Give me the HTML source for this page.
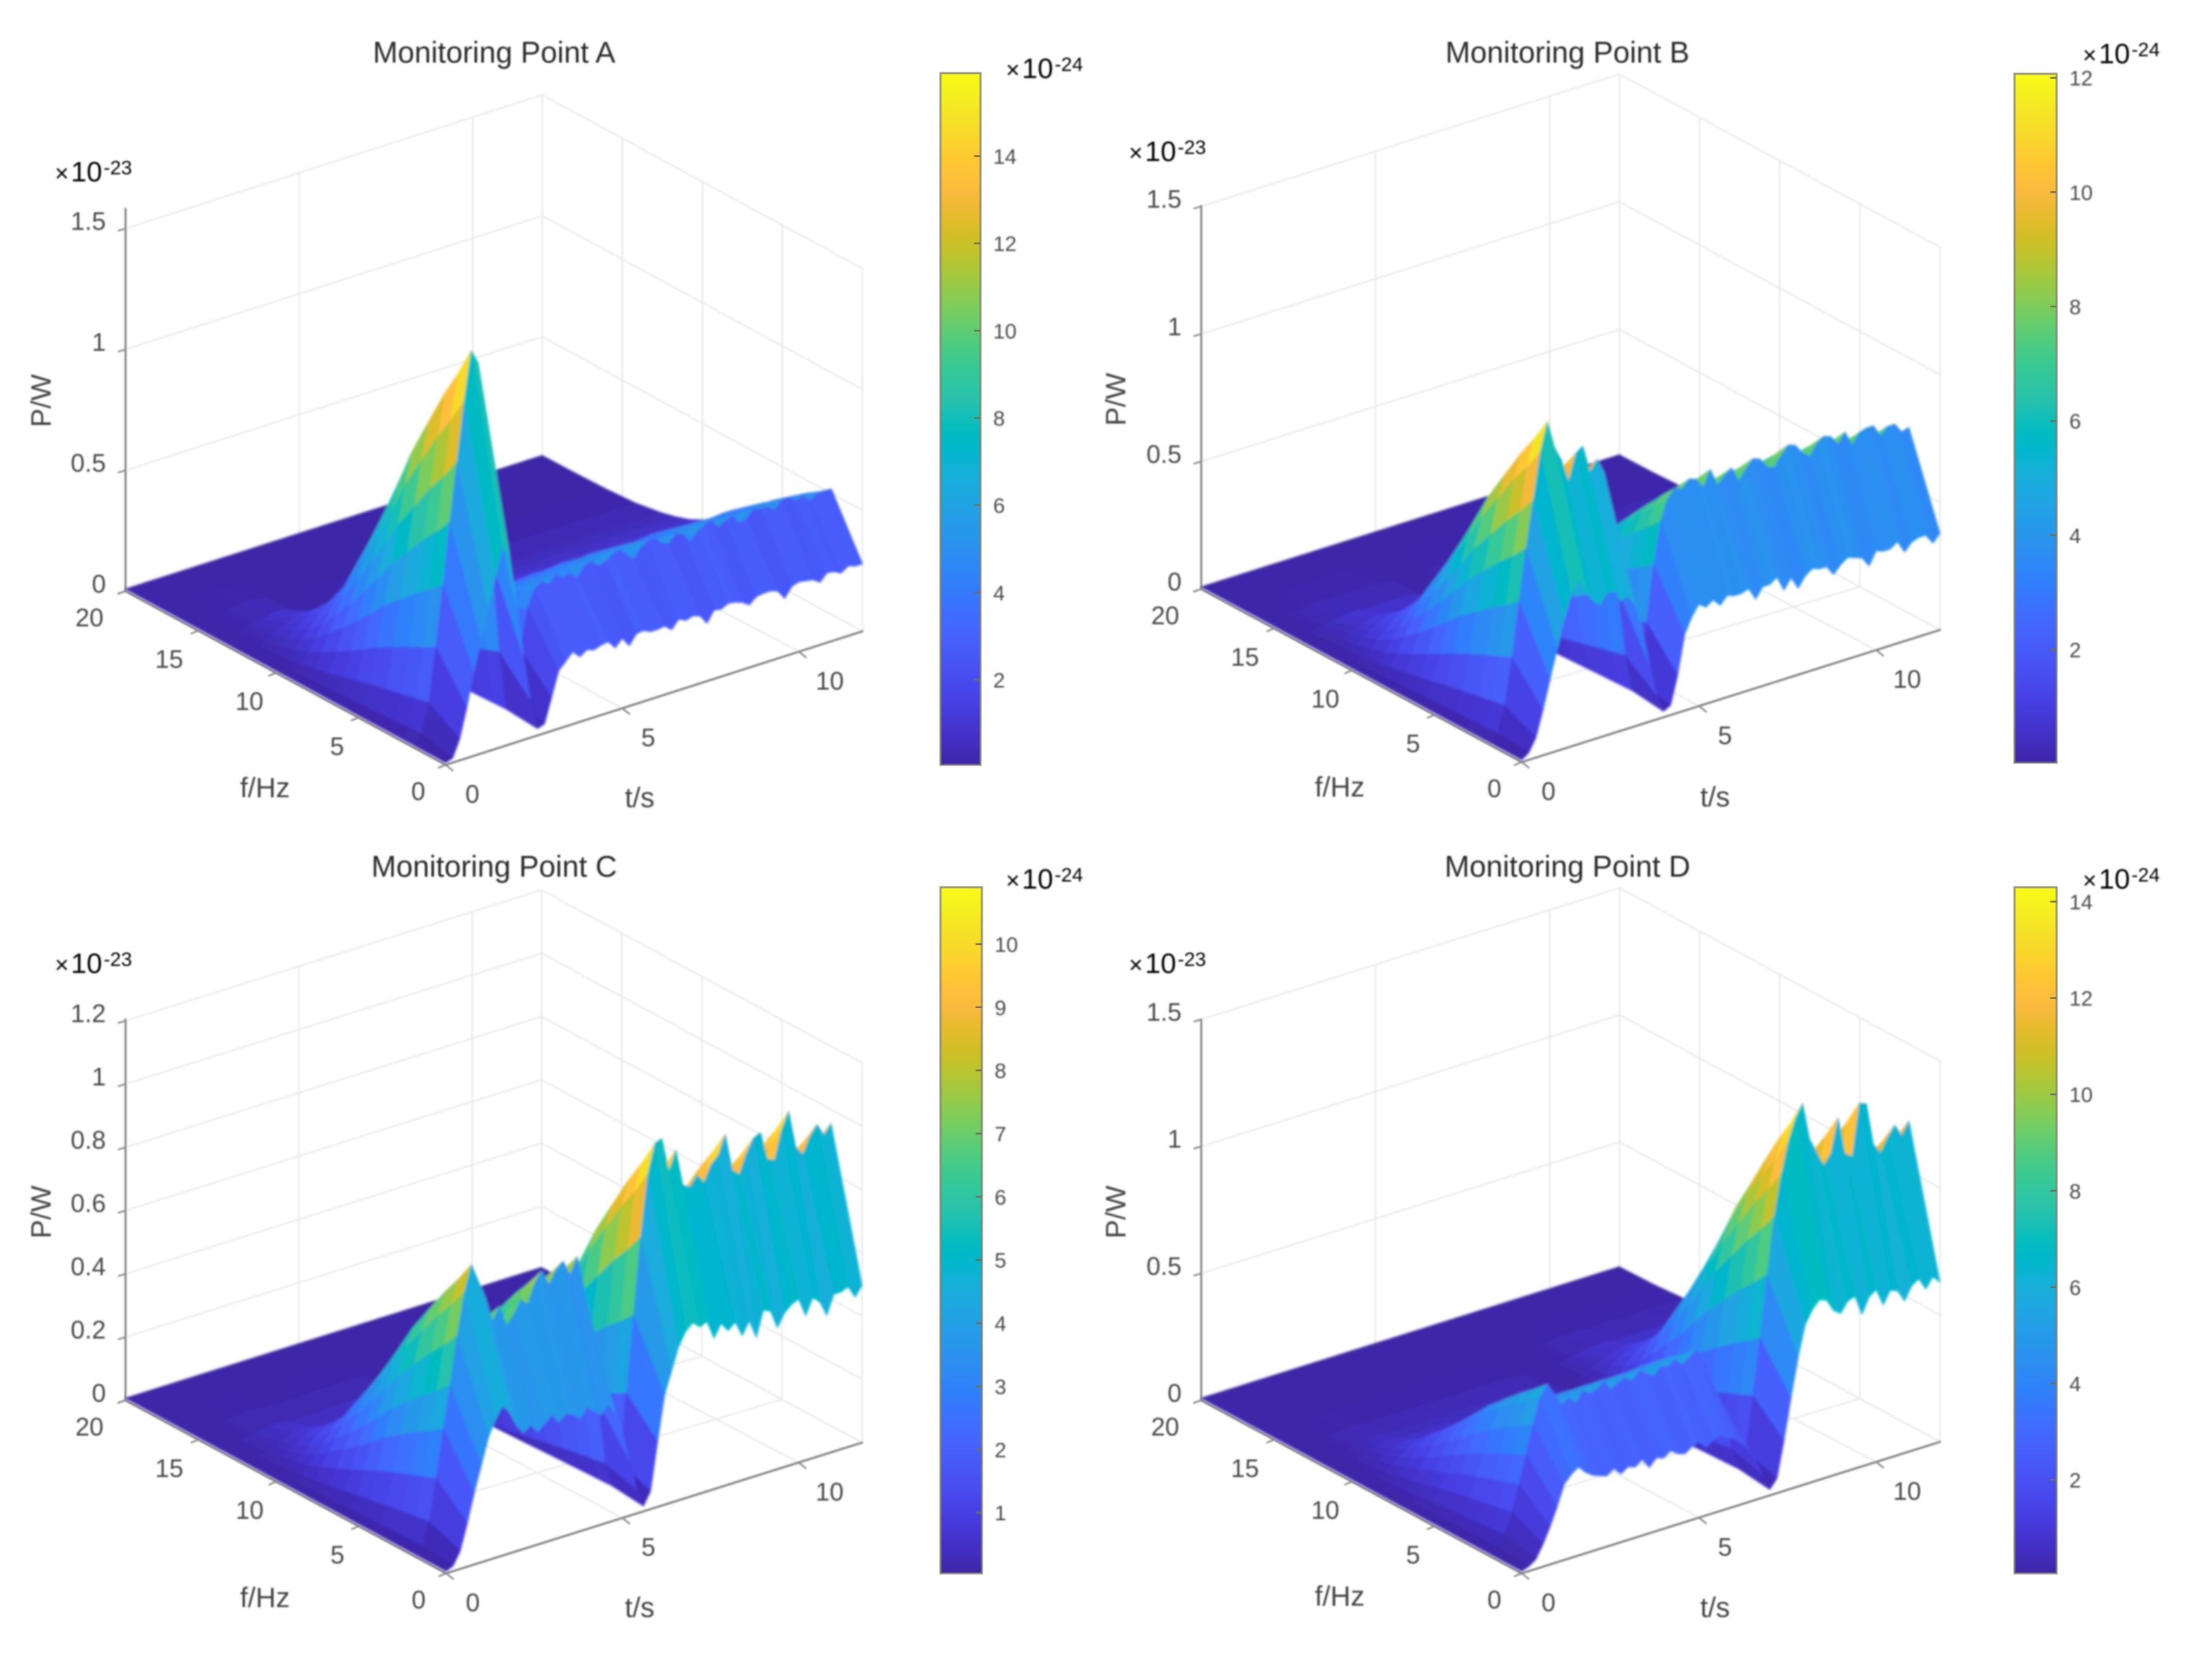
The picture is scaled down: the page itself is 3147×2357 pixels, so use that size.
<!DOCTYPE html>
<html lang="en">
<head>
<meta charset="utf-8">
<title>Monitoring Points Time-Frequency Power Surfaces</title>
<style>
html,body{margin:0;padding:0;background:#fff;width:3147px;height:2357px;overflow:hidden}
svg{display:block}
text{font-family:"Liberation Sans",sans-serif}
.title{font-size:42.5px;fill:#2b2b2b;text-anchor:middle}
.axis-label{font-size:40px;fill:#444;text-anchor:middle}
.exp{fill:#000}
.tick{fill:#4a4a4a}
</style>
</head>
<body>
<svg id="chart" xmlns="http://www.w3.org/2000/svg" width="3147" height="2357" viewBox="0 0 3147 2357">
<defs>
<filter id="soft" x="-5%" y="-5%" width="110%" height="110%"><feGaussianBlur stdDeviation="1.8"/></filter>
<filter id="softer" x="-5%" y="-5%" width="110%" height="110%"><feGaussianBlur stdDeviation="1"/></filter>
<linearGradient id="parula-gradient" x1="0" y1="1" x2="0" y2="0"></linearGradient>
</defs>
<rect width="3147" height="2357" fill="#fff"/>

<g>
<g id="plot-a"></g>
<g filter="url(#softer)">
<text class="title" x="703" y="89">Monitoring Point A</text>
<text class="axis-label" transform="translate(72,570) rotate(-90)">P/W</text>
<text class="axis-label" x="377" y="1134">f/Hz</text>
<text class="axis-label" x="910" y="1148">t/s</text>
<text class="exp" x="78" y="258"><tspan font-size="34">×</tspan><tspan dx="3" font-size="40">10</tspan><tspan dx="2" dy="-10" font-size="28">-23</tspan></text>
<text class="exp" x="1431" y="111"><tspan font-size="34">×</tspan><tspan dx="3" font-size="40">10</tspan><tspan dx="2" dy="-10" font-size="28">-24</tspan></text>
</g>
</g>

<g>
<g id="plot-b"></g>
<g filter="url(#softer)">
<text class="title" x="2230" y="89">Monitoring Point B</text>
<text class="axis-label" transform="translate(1601,568) rotate(-90)">P/W</text>
<text class="axis-label" x="1906" y="1133">f/Hz</text>
<text class="axis-label" x="2440" y="1147">t/s</text>
<text class="exp" x="1606" y="229"><tspan font-size="34">×</tspan><tspan dx="3" font-size="40">10</tspan><tspan dx="2" dy="-10" font-size="28">-23</tspan></text>
<text class="exp" x="2963" y="90"><tspan font-size="34">×</tspan><tspan dx="3" font-size="40">10</tspan><tspan dx="2" dy="-10" font-size="28">-24</tspan></text>
</g>
</g>

<g>
<g id="plot-c"></g>
<g filter="url(#softer)">
<text class="title" x="703" y="1247">Monitoring Point C</text>
<text class="axis-label" transform="translate(72,1724) rotate(-90)">P/W</text>
<text class="axis-label" x="377" y="2286">f/Hz</text>
<text class="axis-label" x="910" y="2300">t/s</text>
<text class="exp" x="78" y="1384"><tspan font-size="34">×</tspan><tspan dx="3" font-size="40">10</tspan><tspan dx="2" dy="-10" font-size="28">-23</tspan></text>
<text class="exp" x="1431" y="1264"><tspan font-size="34">×</tspan><tspan dx="3" font-size="40">10</tspan><tspan dx="2" dy="-10" font-size="28">-24</tspan></text>
</g>
</g>

<g>
<g id="plot-d"></g>
<g filter="url(#softer)">
<text class="title" x="2230" y="1247">Monitoring Point D</text>
<text class="axis-label" transform="translate(1601,1724) rotate(-90)">P/W</text>
<text class="axis-label" x="1906" y="2284">f/Hz</text>
<text class="axis-label" x="2440" y="2300">t/s</text>
<text class="exp" x="1606" y="1384"><tspan font-size="34">×</tspan><tspan dx="3" font-size="40">10</tspan><tspan dx="2" dy="-10" font-size="28">-23</tspan></text>
<text class="exp" x="2963" y="1264"><tspan font-size="34">×</tspan><tspan dx="3" font-size="40">10</tspan><tspan dx="2" dy="-10" font-size="28">-24</tspan></text>
</g>
</g>
</svg>

<script>
// ---------- data (power in units of 1e-24 W) ----------
const timeStep = 0.2;
const freqRows = [0, 1.75, 2.5, 3.25, 4.2, 5.15, 5.95, 6.7, 7.6, 8.5, 9.3, 10.2, 11.1, 12, 13.65, 15.6, 17.55, 20];
const rowShape = [0.53, 1, 0.92, 0.85, 0.75, 0.65, 0.55, 0.46, 0.36, 0.27, 0.19, 0.13, 0.09, 0.06, 0.025, 0.01, 0.003, 0];

const fTicks = [0, 5, 10, 15, 20];
const tTicks = [0, 5, 10];
const zTicksA = [0, 0.5, 1, 1.5];
const zTicksB = [0, 0.5, 1, 1.5];
const zTicksC = [0, 0.2, 0.4, 0.6, 0.8, 1, 1.2];
const zTicksD = [0, 0.5, 1, 1.5];
const colorTicksA = [2, 4, 6, 8, 10, 12, 14];
const colorTicksB = [2, 4, 6, 8, 10, 12];
const colorTicksC = [1, 2, 3, 4, 5, 6, 7, 8, 9, 10];
const colorTicksD = [2, 4, 6, 8, 10, 12, 14];

// power at the spectral ridge, one value per time step
const ridgeA = [0,0.4,1.6,3.8,6.3,8.8,11.2,13.6,15.6,15.0,
10.8,6.6,2.8,0.3,0.6,2.6,4.2,4.9,5.1,4.9,
5.2,5.0,5.1,4.8,5.2,5.3,5.0,5.1,5.3,5.4,
5.1,4.8,5.2,5.4,5.4,5.1,5.0,5.3,5.2,4.8,
5.1,5.3,5.4,5.0,5.2,5.3,4.9,5.0,5.3,5.2,
5.2,5.0,5.3,5.3,5.1,5.2,4.9,5.1,5.1,5.1];
const edgeA = [0,0.1,0.8,2.0,3.4,4.6,5.8,7.0,8.2,7.8,
5.6,3.4,1.5,0.2,0.3,1.3,2.3,2.6,2.9,2.6,
2.8,2.7,2.8,2.85,2.5,2.8,2.4,2.8,2.85,2.7,
2.7,2.75,2.5,2.85,2.7,2.8,2.7,2.3,2.75,2.7,
2.85,2.8,2.7,2.5,2.75,2.8,2.8,2.7,2.3,2.7,
2.8,2.75,2.7,2.5,2.8,2.75,2.6,2.8,2.7,2.7];

const ridgeB = [0,0.3,1.3,3.1,5.2,7.2,9.0,10.8,11.9,10.8,
10.2,9.3,10.3,10.5,9.4,9.8,9.2,7.2,4.4,1.8,
0.3,0.5,2.8,5.0,6.6,7.4,7.7,7.6,7.9,7.8,
7.4,8.0,7.3,7.6,7.8,7.2,7.6,7.9,7.8,7.4,
7.3,7.7,8.0,7.9,7.5,7.3,7.7,7.9,7.8,7.4,
7.8,7.2,7.6,7.7,7.7,7.2,7.5,7.5,7.1,7.2];
const edgeB = [0,0.2,0.7,1.7,2.8,3.9,5,5.9,6.4,5.9,
5.4,5.1,5.5,5.6,5.0,5.1,4.7,3.6,2.2,0.9,
0.15,0.3,1.4,2.9,3.5,3.9,3.7,3.9,3.6,3.9,
3.8,3.8,3.9,3.4,3.8,3.8,4.0,3.4,3.8,3.3,
3.7,3.9,3.8,3.8,3.4,3.7,3.9,3.8,3.7,3.3,
3.8,3.7,3.7,3.9,3.4,3.7,3.8,3.8,3.4,3.7];

const ridgeC = [0,0.2,0.9,2.2,3.7,5.0,6.5,7.8,8.6,8.0,
7.4,6.6,7.0,6.3,6.6,7.0,6.8,7.4,7.7,7.2,
7.6,7.8,7.3,7.8,6.6,5.0,3.0,1.0,0.2,0.9,
3.0,5.4,7.8,9.7,10.6,10.7,9.6,10.2,9.0,8.9,
9.2,8.9,9.4,9.6,10.2,9.0,8.8,9.4,9.8,9.9,
9.0,8.9,9.8,10.3,9.1,8.8,9.3,9.6,9.2,9.5];
const edgeC = [0,0.1,0.5,1.3,2.2,3.0,3.8,4.3,4.7,4.4,
3.9,3.6,3.8,3.5,3.7,3.9,3.6,3.8,3.7,3.5,
3.8,3.6,3.4,3.7,3.3,2.6,1.7,0.7,0.1,0.5,
2.0,3.4,4.1,4.8,5.2,5.4,5.2,5.3,4.7,5.1,
4.8,5.0,4.5,4.9,4.3,5.1,5.0,4.4,4.8,5.0,
5.1,4.5,5.0,4.8,4.3,4.9,4.9,5.0,4.6,4.9];

const ridgeD = [0,0.2,0.6,1.4,2.4,3.5,4.6,5.6,6.0,5.5,
5.0,5.2,4.9,5.3,5.1,5.2,5.4,5.0,5.2,5.3,
5.1,5.4,5.2,5.0,5.3,5.2,5.4,5.1,5.3,5.5,
5.0,4.2,3.4,2.4,1.2,0.3,0.9,3.0,5.2,7.6,
9.8,11.4,12.6,13.4,13.9,12.4,11.8,11.2,11.6,12.9,
11.4,11.2,13.2,13.1,11.4,11,11.5,11.9,11.4,11.9];
const edgeD = [0,0.1,0.3,0.8,1.4,2.1,2.9,3.2,3.4,3.1,
2.9,2.8,2.7,2.9,2.6,2.8,2.7,2.9,2.5,2.8,
2.7,2.9,2.7,2.6,2.8,2.9,2.6,2.8,2.9,2.7,
2.6,2.3,2.0,1.5,0.8,0.15,0.5,1.9,3.5,5.0,
6.2,6.7,7.0,6.9,6.4,6.2,6.6,6.7,5.9,6.5,
6.7,6.0,6.5,6.4,5.9,6.4,6.6,6.1,6.5,6.2];

// MATLAB parula colormap lookup
const parula = [[.2422,.1504,.6603],[.2504,.165,.7076],[.2578,.1818,.7511],[.2647,.1978,.7952],[.2706,.2147,.8364],[.2751,.2342,.871],[.2783,.2559,.8991],[.2803,.2782,.9221],[.2813,.3006,.9414],[.281,.3228,.9579],[.2795,.3447,.9717],[.276,.3667,.9829],[.2699,.3892,.9906],[.2602,.4123,.9952],[.244,.4358,.9988],[.2206,.4603,.9973],[.1963,.4847,.9892],[.1834,.5074,.9798],[.1786,.5289,.9682],[.1764,.5499,.952],[.1687,.5703,.9359],[.154,.5902,.9218],[.146,.6091,.9079],[.138,.6276,.8973],[.1248,.6459,.8883],[.1113,.6635,.8763],[.0952,.6798,.8598],[.0689,.6948,.8394],[.0297,.7082,.8163],[.0036,.7203,.7917],[.0067,.7312,.766],[.0433,.7411,.7394],[.0964,.75,.712],[.1408,.7584,.6842],[.1717,.767,.6554],[.1938,.7758,.6251],[.2161,.7843,.5923],[.247,.7918,.5567],[.2906,.7973,.5188],[.3406,.8008,.4789],[.3909,.8029,.4354],[.4456,.8024,.3909],[.5044,.7993,.348],[.5616,.7942,.3045],[.6174,.7876,.2612],[.672,.7793,.2227],[.7242,.7698,.191],[.7738,.7598,.1646],[.8203,.7498,.1535],[.8634,.7406,.1596],[.9035,.733,.1774],[.9393,.7288,.21],[.9728,.7298,.2394],[.9956,.7434,.2371],[.997,.7659,.2199],[.9952,.7861,.1967],[.9892,.8136,.1885],[.9786,.8386,.1766],[.9676,.8639,.1643],[.961,.889,.1537],[.9597,.9135,.1423],[.9628,.9373,.1265],[.9691,.9606,.1064],[.9769,.9839,.0805]];

// ---------- layout ----------
const panelLayouts = [
  {host:'plot-a', left:[178.6,841], front:[634,1088], right:[1227,898], zPx:344, zMax:1.5, axisTop:297,
   bar:{x0:1338,x1:1395,y0:104,y1:1088,cMin:0.05,cMax:15.9}},
  {host:'plot-b', left:[1709,838], front:[2165,1084], right:[2760,896], zPx:363, zMax:1.5, axisTop:293,
   bar:{x0:2866,x1:2926,y0:105,y1:1085,cMin:0.02,cMax:12.07}},
  {host:'plot-c', left:[178.6,1992], front:[634.7,2238], right:[1226.5,2052], zPx:450, zMax:1.2, axisTop:1450,
   bar:{x0:1338,x1:1397,y0:1262,y1:2238,cMin:0.04,cMax:10.9}},
  {host:'plot-d', left:[1709,1992], front:[2165,2238], right:[2760,2051], zPx:361.3, zMax:1.5, axisTop:1450,
   bar:{x0:2866,x1:2926,y0:1262,y1:2238,cMin:0.06,cMax:14.3}}
];
const panelSeries = [
  {ridge:ridgeA, edge:edgeA, zTicks:zTicksA, colorTicks:colorTicksA},
  {ridge:ridgeB, edge:edgeB, zTicks:zTicksB, colorTicks:colorTicksB},
  {ridge:ridgeC, edge:edgeC, zTicks:zTicksC, colorTicks:colorTicksC},
  {ridge:ridgeD, edge:edgeD, zTicks:zTicksD, colorTicks:colorTicksD}
];

const NS = 'http://www.w3.org/2000/svg';
function mk(tag, attrs, parent){
  const el = document.createElementNS(NS, tag);
  for (const k in attrs) el.setAttribute(k, attrs[k]);
  parent.appendChild(el);
  return el;
}
function colorAt(v){
  const x = Math.max(0, Math.min(1, v))*63;
  const i = Math.min(62, Math.floor(x)), u = x-i;
  const a = parula[i], b = parula[i+1];
  return 'rgb('+Math.round((a[0]+(b[0]-a[0])*u)*255)+','+Math.round((a[1]+(b[1]-a[1])*u)*255)+','+Math.round((a[2]+(b[2]-a[2])*u)*255)+')';
}

// colour bar gradient
const grad = document.getElementById('parula-gradient');
parula.forEach(function(c,i){
  const s = document.createElementNS(NS,'stop');
  s.setAttribute('offset', (i/63*100)+'%');
  s.setAttribute('stop-color', colorAt(i/63));
  grad.appendChild(s);
});

const T_MAX = timeStep*59;
const fFrac = f => 0.0559*f - 0.000293*f*f;
const tFrac = t => t/T_MAX;
const GRID = '#ebebeb', AXIS = '#8a8a8a';
const fLabelNudge = {0:[-8,-3], 5:[4,0], 10:[0,0], 15:[0,0], 20:[-6,-3]};
const tLabelNudge = {0:0, 5:-1, 10:6};

function drawPanel(L, D){
  const host = document.getElementById(L.host);
  const ax = L.right[0]-L.front[0], ay = L.right[1]-L.front[1];
  const bx = L.left[0]-L.front[0], by = L.left[1]-L.front[1];
  // axis functions
  const floor = (sf,st) => [L.front[0]+sf*bx+st*ax, L.front[1]+sf*by+st*ay];
  const zy = z => z*L.zPx;                      // z in 1e-23
  const project = (f,t,p) => {                  // p in 1e-24
    const q = floor(fFrac(f), tFrac(t));
    return [q[0], q[1]-3-zy(p/10)];
  };

  const back = mk('g',{fill:'none','stroke-linecap':'round'},host);
  
  
  back.setAttribute('filter','url(#softer)');

  function gridLine(x1,y1,x2,y2){
    const l = mk('line',{x1:x1,y1:y1,x2:x2,y2:y2,stroke:GRID,'stroke-width':2.4},back);
    
    
  }
  const wallTop = zy(L.zMax);
  const leftC = floor(1,0), backC = floor(1,1), rightC = floor(0,1);
  D.zTicks.forEach(function(v){
    const h = zy(v);
    gridLine(leftC[0],leftC[1]-h,backC[0],backC[1]-h);
    gridLine(backC[0],backC[1]-h,rightC[0],rightC[1]-h);
  });
  gridLine(backC[0],backC[1],backC[0],backC[1]-wallTop);
  gridLine(rightC[0],rightC[1],rightC[0],rightC[1]-wallTop);
  tTicks.forEach(function(v){
    if (v===0) return;
    const a = floor(0,tFrac(v)), b = floor(1,v/12);
    gridLine(a[0],a[1],b[0],b[1]);
    gridLine(b[0],b[1],b[0],b[1]-wallTop);
  });
  fTicks.forEach(function(v){
    if (v===0 || v===20) return;
    const a = floor(fFrac(v),0), b = floor(v/20,1);
    gridLine(a[0],a[1],b[0],b[1]);
    gridLine(b[0],b[1],b[0],b[1]-wallTop);
  });
  gridLine(leftC[0],leftC[1],backC[0],backC[1]);
  gridLine(backC[0],backC[1],rightC[0],rightC[1]);

  function axisLine(x1,y1,x2,y2,w){
    const l = mk('line',{x1:x1,y1:y1,x2:x2,y2:y2,stroke:AXIS,'stroke-width':w},back);
    
    
  }
  axisLine(L.left[0],L.left[1],L.left[0],L.axisTop,3);
  axisLine(L.left[0],L.left[1],L.front[0],L.front[1],3.2);
  axisLine(L.front[0],L.front[1],L.right[0],L.right[1],3.2);

  const labels = mk('g',{filter:'url(#softer)','font-size':36,fill:'#4a4a4a'},host);
  
  

  D.zTicks.forEach(function(v){
    const y = L.left[1]-zy(v);
    axisLine(L.left[0],y,L.left[0]-10,y+3,2.4);
    const t = mk('text',{x:L.left[0]-28,y:y+2,'text-anchor':'end'},labels);
    
    
    t.textContent = String(v);
  });
  fTicks.forEach(function(v){
    const p = floor(fFrac(v),0);
    const nudge = fLabelNudge[v] || [0,0];
    axisLine(p[0],p[1],p[0]-10,p[1]+4,2.4);
    const t = mk('text',{x:p[0]-38-(v-10)*0.7+nudge[0],y:p[1]+53+nudge[1],'text-anchor':'middle'},labels);
    
    
    t.textContent = String(v);
  });
  tTicks.forEach(function(v){
    const p = floor(0,tFrac(v));
    axisLine(p[0],p[1],p[0]+10,p[1]+8,2.4);
    const t = mk('text',{x:p[0]+38+(tLabelNudge[v]||0),y:p[1]+54,'text-anchor':'middle'},labels);
    
    
    t.textContent = String(v);
  });

  // surface: one flat-toned strip per frequency row, coloured by its near row
  const B = L.bar;
  const cNorm = p => (p-B.cMin)/(B.cMax-B.cMin);
  const n = Math.min(D.ridge.length, D.edge.length);
  const value = (i,j) => i===0 ? D.edge[j] : D.ridge[j]*rowShape[i];
  const surf = mk('g',{filter:'url(#soft)'},host);
  
  
  for (let i=freqRows.length-2;i>=0;i--){
    const f0=freqRows[i], f1=freqRows[i+1];
    for (let j=n-2;j>=0;j--){
      const t0=j*timeStep, t1=(j+1)*timeStep;
      const a=project(f0,t0,value(i,j)), b=project(f0,t1,value(i,j+1)),
            c=project(f1,t1,value(i+1,j+1)), d=project(f1,t0,value(i+1,j));
      const col = colorAt(cNorm((value(i,j)+value(i,j+1))/2));
      const poly = mk('polygon',{points:[a,b,c,d].map(q=>q[0].toFixed(1)+','+q[1].toFixed(1)).join(' '),
        fill:col,stroke:col,'stroke-width':0.9,'stroke-linejoin':'round'},surf);
      
      
    }
  }

  // colour bar
  const bar = mk('rect',{x:B.x0,y:B.y0,width:B.x1-B.x0,height:B.y1-B.y0,fill:'url(#parula-gradient)',
    stroke:'#7d7d66','stroke-opacity':0.75,'stroke-width':3},host);
  
  
  const cbY = v => B.y1-(v-B.cMin)/(B.cMax-B.cMin)*(B.y1-B.y0);
  const cbLabels = mk('g',{filter:'url(#softer)','font-size':30,fill:'#4a4a4a'},host);
  
  
  D.colorTicks.forEach(function(v){
    const y = cbY(v);
    const tk = mk('line',{x1:B.x1-9,y1:y,x2:B.x1,y2:y,stroke:'#6f6f5a','stroke-width':2.4},host);
    
    
    const t = mk('text',{x:B.x1+18,y:y+11},cbLabels);
    
    
    t.textContent = String(v);
  });
}

panelLayouts.forEach(function(L,i){ drawPanel(L, panelSeries[i]); });
</script>
</body>
</html>
